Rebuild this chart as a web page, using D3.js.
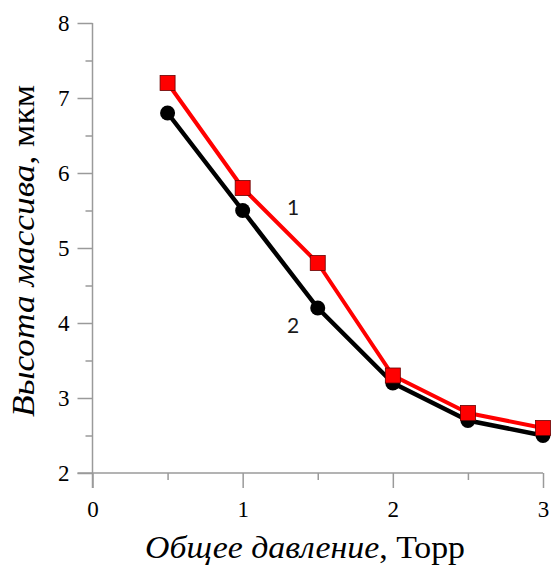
<!DOCTYPE html>
<html>
<head>
<meta charset="utf-8">
<title>Высота массива</title>
<style>
    body { margin: 0; background: #fff; }
    .axis path, .axis line { stroke: #9a9a9a; stroke-width: 1.5; }
</style>
</head>
<body>
<svg width="551" height="566"></svg>
<script src="https://cdnjs.cloudflare.com/ajax/libs/d3/7.8.5/d3.min.js"></script>
<script>
    // давление, Торр
    const pressure = [0.5, 1, 1.5, 2, 2.5, 3];
    // кривая 1 (красные квадраты) и кривая 2 (черные кружки), мкм
    const series1 = [7.2, 5.8, 4.8, 3.3, 2.8, 2.6];
    const series2 = [6.8, 5.5, 4.2, 3.2, 2.7, 2.5];
    const xTicks = [0, 1, 2, 3];
    const xMinor = [0.5, 1.5, 2.5];
    const yTicks = [2, 3, 4, 5, 6, 7, 8];
    const yMinor = [2.5, 3.5, 4.5, 5.5, 6.5, 7.5];

    const serif = 'Liberation Serif';

    let svg = d3.select('svg');

    let x = d3.scaleLinear().domain([0, 3]).range([92.5, 543]);
    let y = d3.scaleLinear().domain([2, 8]).range([473, 23]);

    // малые деления
    svg.append('g').attr('class', 'axis')
        .attr('transform', 'translate(0,' + y(2) + ')')
        .call(d3.axisBottom(x).tickValues(xMinor).tickSize(7).tickSizeOuter(0).tickFormat(''));
    svg.append('g').attr('class', 'axis')
        .attr('transform', 'translate(' + x(0) + ',0)')
        .call(d3.axisLeft(y).tickValues(yMinor).tickSize(7).tickSizeOuter(0).tickFormat(''));

    // основные оси
    svg.append('g').attr('class', 'axis')
        .attr('transform', 'translate(0,' + y(2) + ')')
        .call(d3.axisBottom(x).tickValues(xTicks).tickSize(15).tickSizeOuter(0).tickPadding(13).tickFormat(d3.format('d')));
    svg.append('g').attr('class', 'axis')
        .attr('transform', 'translate(' + x(0) + ',0)')
        .call(d3.axisLeft(y).tickValues(yTicks).tickSize(15).tickSizeOuter(0).tickPadding(8).tickFormat(d3.format('d')));

    svg.selectAll('.axis text')
        .style('font-family', serif).style('font-size', '23px').attr('fill', '#000');

    // ось x продолжается влево до конца деления, ось y вниз
    svg.selectAll('.axis .domain').remove();
    svg.append('line').attr('x1', x(0) - 15).attr('x2', x(3)).attr('y1', y(2)).attr('y2', y(2))
        .attr('stroke', '#9a9a9a').attr('stroke-width', 1.5);
    svg.append('line').attr('x1', x(0)).attr('x2', x(0)).attr('y1', y(8)).attr('y2', y(2) + 15)
        .attr('stroke', '#9a9a9a').attr('stroke-width', 1.5);

    let line = d3.line().x((d, i) => x(pressure[i])).y(d => y(d));

    // кривая 2
    svg.append('path').datum(series2)
        .attr('d', line).attr('fill', 'none').attr('stroke', '#000').attr('stroke-width', 4.5)
        .attr('stroke-linejoin', 'round');
    svg.append('g').selectAll('circle').data(series2).enter().append('circle')
        .attr('cx', (d, i) => x(pressure[i])).attr('cy', d => y(d)).attr('r', 7.5).attr('fill', '#000');

    // кривая 1
    svg.append('path').datum(series1)
        .attr('d', line).attr('fill', 'none').attr('stroke', '#ff0000').attr('stroke-width', 4)
        .attr('stroke-linejoin', 'round');
    svg.append('g').selectAll('rect').data(series1).enter().append('rect')
        .attr('x', (d, i) => x(pressure[i]) - 7.5).attr('y', d => y(d) - 7.5)
        .attr('width', 15).attr('height', 15)
        .attr('fill', '#ff0000').attr('stroke', '#600').attr('stroke-width', 0.8);

    // номера кривых
    svg.append('text').style('font-family', 'Lato').style('font-size', '21px').attr('fill', '#1a1a1a')
        .attr('x', 293).attr('y', 215).attr('text-anchor', 'middle').text('1');
    svg.append('text').style('font-family', 'Lato').style('font-size', '21px').attr('fill', '#1a1a1a')
        .attr('x', 293).attr('y', 333).attr('text-anchor', 'middle').text('2');

    // подписи осей
    let xt = svg.append('text').style('font-family', serif).style('font-size', '31px')
        .attr('x', 305).attr('y', 558).attr('text-anchor', 'middle')
        .attr('textLength', 320).attr('lengthAdjust', 'spacingAndGlyphs');
    xt.append('tspan').style('font-style', 'italic').text('Общее давление');
    xt.append('tspan').text(', Торр');

    let yt = svg.append('text').style('font-family', serif).style('font-size', '31px')
        .attr('transform', 'translate(34,251) rotate(-90)').attr('text-anchor', 'middle')
        .attr('textLength', 332).attr('lengthAdjust', 'spacingAndGlyphs');
    yt.append('tspan').style('font-style', 'italic').text('Высота массива');
    yt.append('tspan').text(', мкм');
</script>
</body>
</html>
